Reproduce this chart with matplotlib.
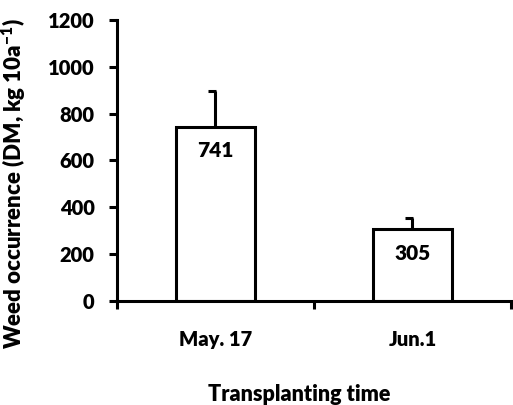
import matplotlib.pyplot as plt
import numpy as np

plt.rcParams['font.family'] = ['Lato', 'DejaVu Sans']
plt.rcParams['font.weight'] = 'heavy'
plt.rcParams['mathtext.fontset'] = 'custom'
plt.rcParams['mathtext.rm'] = 'Lato:heavy'
plt.rcParams['mathtext.bf'] = 'Lato:heavy'

# Data
categories = ['May. 17', 'Jun.1']
values = [741, 305]
errors = [155, 48]

x = np.arange(len(categories))
fig = plt.figure(figsize=(5.13, 4.05), dpi=100)
ax = fig.add_axes([0.228, 0.257, 0.768, 0.694])

ax.bar(x, values, width=0.4, color='white', edgecolor='black', linewidth=2.2, zorder=2)

# error bars: stem plus a cap on the left side only
tops = np.array(values) + np.array(errors)
ax.vlines(x, values, tops, color='black', linewidth=2.2, zorder=1)
ax.hlines(tops, x - 0.04, x + 0.005, color='black', linewidth=2.2, zorder=1)

for xi, v in zip(x, values):
    ax.annotate(str(v), (xi, v), xytext=(0, -17), textcoords='offset points',
                ha='center', va='center', fontsize=15, fontweight='heavy')

ax.set_xlim(-0.5, 1.5)
ax.set_ylim(0, 1200)
ax.set_yticks(np.arange(0, 1201, 200))
ax.set_xticks([-0.5, 0.5, 1.5])
ax.set_xticklabels([])
ax.set_xticks(x, minor=True)
ax.set_xticklabels(categories, minor=True)
ax.tick_params(axis='x', which='major', direction='out', length=6, width=2.2)
ax.tick_params(axis='x', which='minor', length=0, pad=21, labelsize=14.5)
ax.tick_params(axis='y', direction='out', length=6, width=2.2, pad=10, labelsize=14.5)

for spine in ['top', 'right']:
    ax.spines[spine].set_visible(False)
for spine in ['left', 'bottom']:
    ax.spines[spine].set_linewidth(2.2)

ax.set_xlabel('Transplanting time', fontsize=15.5, fontweight='heavy')
ax.xaxis.set_label_coords(0.463, -0.295)
ax.set_ylabel(r'Weed occurrence (DM, kg 10a$^{-1}$)', fontsize=16, fontweight='heavy')
ax.yaxis.set_label_coords(-0.225, 0.416)

fig.savefig('out.png', dpi=100)
